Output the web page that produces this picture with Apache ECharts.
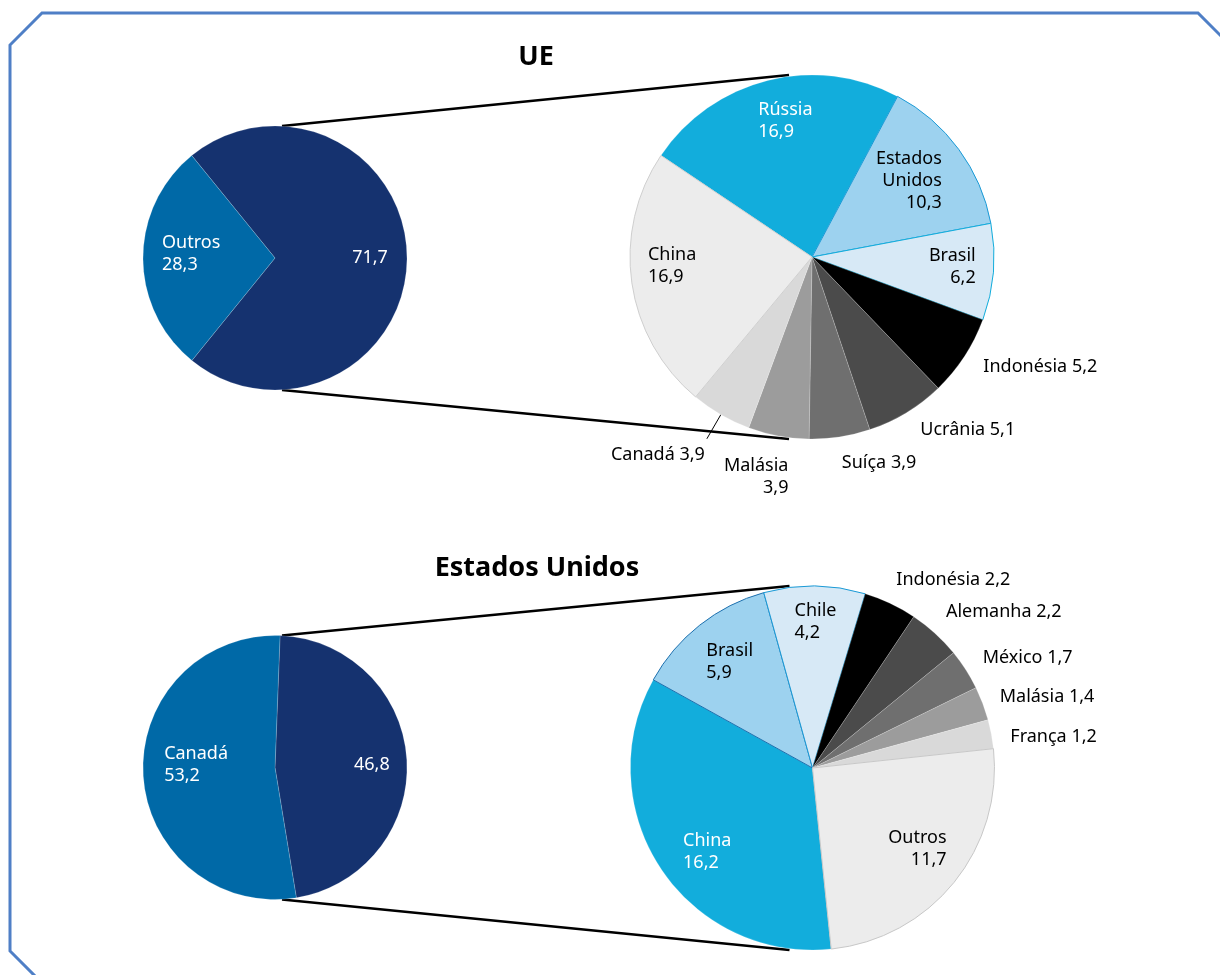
<!DOCTYPE html>
<html>
<head>
<meta charset="utf-8">
<title>UE e Estados Unidos</title>
<script src="https://cdn.jsdelivr.net/npm/echarts@6.0.0/dist/echarts.min.js"></script>
<style>
  html, body { margin: 0; padding: 0; background: #fff; }
  #chart { width: 1220px; height: 975px; }
</style>
</head>
<body>
<div id="chart"></div>
<script>
// UE: share of the top suppliers vs others, then the breakdown of the top group
var ueShareNames = ['Principais', 'Outros'];
var ueShareValues = [71.7, 28.3];
var ueNames = ['Rússia', 'Estados Unidos', 'Brasil', 'Indonésia', 'Ucrânia', 'Suíça', 'Malásia', 'Canadá', 'China'];
var ueValues = [16.9, 10.3, 6.2, 5.2, 5.1, 3.9, 3.9, 3.9, 16.9];

// Estados Unidos
var usShareNames = ['Principais', 'Canadá'];
var usShareValues = [46.8, 53.2];
var usNames = ['China', 'Brasil', 'Chile', 'Indonésia', 'Alemanha', 'México', 'Malásia', 'França', 'Outros'];
var usValues = [16.2, 5.9, 4.2, 2.2, 2.2, 1.7, 1.4, 1.2, 11.7];

var titles = ['UE', 'Estados Unidos'];

var FONT = '"Noto Sans", "Open Sans", sans-serif';
var NAVY = '#15326f', MIDBLUE = '#0069a7', CYAN = '#12addc', LIGHT = '#9dd2ef', PALE = '#d7e9f6';

// colours and label placement (styling only)
var ueColors = [CYAN, LIGHT, PALE, '#000000', '#4b4b4b', '#6f6f6f', '#9c9c9c', '#d9d9d9', '#ececec'];
var ueBorders = [null, '#1a9ad6', CYAN, null, null, null, null, null, '#cfcfcf'];
var ueLabels = [
  { pos: 'inside', mode: 'stack', color: '#fff', align: 'left', dx: -31, dy: -45 },
  { pos: 'inside', mode: 'stack', color: '#000', align: 'right', dx: 54, dy: -20 },
  { pos: 'inside', mode: 'stack', color: '#000', align: 'right', dx: 70, dy: 2 },
  { pos: 'outside', mode: 'inline', color: '#000', align: 'left', dx: 14, dy: 10 },
  { pos: 'outside', mode: 'inline', color: '#000', align: 'left', dx: 9, dy: 17 },
  { pos: 'outside', mode: 'inline', color: '#000', align: 'left', dx: -3, dy: 26 },
  { pos: 'outside', mode: 'stack', color: '#000', align: 'right', dx: 15, dy: 41 },
  { pos: 'outside', mode: 'inline', color: '#000', align: 'right', dx: 3, dy: 16, line: 28 },
  { pos: 'inside', mode: 'stack', color: '#000', align: 'left', dx: -71, dy: -4 }
];
var ueShareLabels = [
  { pos: 'inside', mode: 'value', color: '#fff', align: 'center', dx: 26, dy: 0 },
  { pos: 'inside', mode: 'stack', color: '#fff', align: 'left', dx: -44, dy: -4 }
];

var usColors = [CYAN, LIGHT, PALE, '#000000', '#4b4b4b', '#6f6f6f', '#9c9c9c', '#d9d9d9', '#ececec'];
var usBorders = [null, '#1b6fae', '#1a9ad6', null, null, null, null, null, '#c8c8c8'];
var usLabels = [
  { pos: 'inside', mode: 'stack', color: '#fff', align: 'left', dx: -51, dy: 32 },
  { pos: 'inside', mode: 'stack', color: '#000', align: 'left', dx: -48, dy: -32 },
  { pos: 'inside', mode: 'stack', color: '#000', align: 'left', dx: -19, dy: -52 },
  { pos: 'outside', mode: 'inline', color: '#000', align: 'left', dx: 1, dy: -24 },
  { pos: 'outside', mode: 'inline', color: '#000', align: 'left', dx: 6, dy: -21 },
  { pos: 'outside', mode: 'inline', color: '#000', align: 'left', dx: 12, dy: -12 },
  { pos: 'outside', mode: 'inline', color: '#000', align: 'left', dx: 12, dy: -7 },
  { pos: 'outside', mode: 'inline', color: '#000', align: 'left', dx: 14, dy: 3 },
  { pos: 'inside', mode: 'stack', color: '#000', align: 'right', dx: 61, dy: 22 }
];
var usShareLabels = [
  { pos: 'inside', mode: 'value', color: '#fff', align: 'center', dx: 28, dy: 2 },
  { pos: 'inside', mode: 'stack', color: '#fff', align: 'left', dx: -42, dy: -7 }
];

// pie geometry
var ueSmall = { c: [275, 258], r: 132, start: 129.1 };
var ueBig = { c: [812, 257], r: 182, start: 146.1 };
var usSmall = { c: [275, 767.5], r: 132, start: 87.8 };
var usBig = { c: [812.5, 768], r: 182, start: -84.1 };

function fmt(v) {
  return v.toFixed(1).replace('.', ',');
}

function labelText(mode, name, value) {
  if (mode === 'value') return fmt(value);
  if (mode === 'inline') return name + ' ' + fmt(value);
  return name.split(' ').join('\n') + '\n' + fmt(value);
}

function pieSeries(names, values, colors, borders, labels, geo) {
  return {
    type: 'pie',
    center: geo.c,
    radius: geo.r,
    startAngle: geo.start,
    clockwise: true,
    avoidLabelOverlap: false,
    silent: true,
    animation: false,
    z: 3,
    label: { show: true, fontFamily: FONT, fontSize: 18, lineHeight: 22 },
    data: names.map(function (n, i) {
      var s = labels[i];
      return {
        name: n,
        value: values[i],
        itemStyle: {
          color: colors[i],
          borderColor: borders[i] || 'rgba(255,255,255,0.35)',
          borderWidth: borders[i] ? 1 : 0.5
        },
        label: { position: s.pos, color: s.color, formatter: labelText(s.mode, n, values[i]) },
        labelLine: {
          show: !!s.line,
          length: s.line || 0,
          length2: 0,
          lineStyle: { color: '#000', width: 1 }
        }
      };
    }),
    labelLayout: function (p) {
      var s = labels[p.dataIndex];
      return { dx: s.dx, dy: s.dy, align: s.align };
    }
  };
}

// connector lines from the small pie to the breakdown pie
function connectors(small, big) {
  var style = { stroke: '#000', lineWidth: 2.5 };
  return [
    { type: 'line', z: 1, shape: { x1: small.c[0] + 7, y1: small.c[1] - small.r, x2: big.c[0] - 23, y2: big.c[1] - big.r }, style: style },
    { type: 'line', z: 1, shape: { x1: small.c[0] + 7, y1: small.c[1] + small.r, x2: big.c[0] - 23, y2: big.c[1] + big.r }, style: style }
  ];
}

var chart = echarts.init(document.getElementById('chart'));

chart.setOption({
  backgroundColor: '#fff',
  animation: false,
  title: [
    { text: titles[0], left: 531, top: 39, textAlign: 'center',
      textStyle: { fontFamily: FONT, fontSize: 27, fontWeight: 'bold', color: '#000' } },
    { text: titles[1], left: 532, top: 550, textAlign: 'center',
      textStyle: { fontFamily: FONT, fontSize: 27, fontWeight: 'bold', color: '#000' } }
  ],
  graphic: [
    { type: 'polyline', z: 0, silent: true,
      shape: { points: [[36, 977], [10, 951], [10, 45], [42, 13], [1198, 13], [1224, 39]] },
      style: { stroke: '#4f7fc6', lineWidth: 3, fill: null } }
  ].concat(connectors(ueSmall, ueBig), connectors(usSmall, usBig)),
  series: [
    pieSeries(ueShareNames, ueShareValues, [NAVY, MIDBLUE], [null, null], ueShareLabels, ueSmall),
    pieSeries(ueNames, ueValues, ueColors, ueBorders, ueLabels, ueBig),
    pieSeries(usShareNames, usShareValues, [NAVY, MIDBLUE], [null, null], usShareLabels, usSmall),
    pieSeries(usNames, usValues, usColors, usBorders, usLabels, usBig)
  ]
});
</script>
</body>
</html>
